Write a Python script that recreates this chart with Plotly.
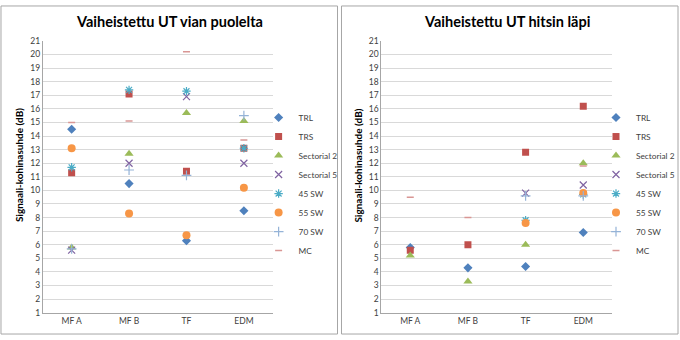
import plotly.graph_objects as go

categories = ["MF A", "MF B", "TF", "EDM"]
series_names = ["TRL", "TRS", "Sectorial 2", "Sectorial 5", "45 SW", "55 SW", "70 SW", "MC"]

# Left panel: "Vaiheistettu UT vian puolelta"
left_trl = [14.5, 10.5, 6.3, 8.5]
left_trs = [11.3, 17.1, 11.4, 13.1]
left_sect2 = [5.8, 12.7, 15.7, 15.1]
left_sect5 = [5.6, 12.0, 16.9, 12.0]
left_sw45 = [11.7, 17.4, 17.3, 13.1]
left_sw55 = [13.1, 8.3, 6.7, 10.2]
left_sw70 = [5.7, 11.5, 11.1, 15.5]
left_mc = [15.0, 15.1, 20.2, 13.7]

# Right panel: "Vaiheistettu UT hitsin läpi"
right_trl = [5.8, 4.3, 4.4, 6.9]
right_trs = [5.6, 6.0, 12.8, 16.2]
right_sect2 = [5.2, 3.3, 6.0, 12.0]
right_sect5 = [None, None, 9.8, 10.4]
right_sw45 = [None, None, 7.8, 9.7]
right_sw55 = [None, None, 7.6, 9.8]
right_sw70 = [None, None, 9.6, 9.6]
right_mc = [9.5, 8.0, None, 11.8]

y_ticks = list(range(1, 22))

styles = {
    "TRL": dict(symbol="diamond", color="#4F81BD", size=7),
    "TRS": dict(symbol="square", color="#C0504D", size=7),
    "Sectorial 2": dict(symbol="triangle-up", color="#9BBB59", size=8),
    "Sectorial 5": dict(symbol="x-thin-open", color="#8064A2", size=7, line=dict(width=1.2, color="#8064A2")),
    "45 SW": dict(symbol="asterisk-open", color="#4BACC6", size=7, line=dict(width=1.2, color="#4BACC6")),
    "55 SW": dict(symbol="circle", color="#F79646", size=8),
    "70 SW": dict(symbol="cross-thin-open", color="#95B3D7", size=7, line=dict(width=1.2, color="#95B3D7")),
    "MC": dict(symbol="line-ew-open", color="#D99694", size=5, line=dict(width=1.5, color="#C0504D")),
}

left_data = [left_trl, left_trs, left_sect2, left_sect5, left_sw45, left_sw55, left_sw70, left_mc]
right_data = [right_trl, right_trs, right_sect2, right_sect5, right_sw45, right_sw55, right_sw70, right_mc]

fig = go.Figure()
for name, vals in zip(series_names, left_data):
    fig.add_trace(go.Scatter(x=categories, y=vals, mode="markers", name=name,
                             marker=styles[name], xaxis="x", yaxis="y", legend="legend"))
for name, vals in zip(series_names, right_data):
    fig.add_trace(go.Scatter(x=categories, y=vals, mode="markers", name=name,
                             marker=styles[name], xaxis="x2", yaxis="y2", legend="legend2"))

W, H = 680, 340
font = "Lato, Open Sans, sans-serif"
tickfont = dict(family=font, size=8.5, color="#404040")

def xax(domain, anchor):
    return dict(domain=domain, anchor=anchor, type="category", categoryorder="array",
                categoryarray=categories, range=[-0.5, 3.5], showgrid=False,
                showline=True, linecolor="#A6A6A6", linewidth=1, ticks="",
                tickfont=tickfont, zeroline=False, fixedrange=True)

def yax(anchor):
    return dict(domain=[1 - 317 / H, 1 - 37 / H], anchor=anchor, range=[1, 21],
                tickvals=y_ticks, showgrid=True, gridcolor="#D9D9D9", gridwidth=1,
                showline=True, linecolor="#A6A6A6", linewidth=1, ticks="",
                tickfont=tickfont, zeroline=False, fixedrange=True)

legend_common = dict(font=dict(family=font, size=8.3, color="#404040"), bgcolor="rgba(0,0,0,0)",
                     itemsizing="trace", tracegroupgap=0, xanchor="left", yanchor="top",
                     itemwidth=30, borderwidth=0)

fig.update_layout(
    width=W, height=H, margin=dict(l=0, r=0, t=0, b=0), autosize=False,
    paper_bgcolor="white", plot_bgcolor="white",
    xaxis=xax([43 / W, 273 / W], "y"),
    yaxis=yax("x"),
    xaxis2=xax([382 / W, 613 / W], "y2"),
    yaxis2=yax("x2"),
    legend=dict(x=259 / W, y=1 - 101 / H, **legend_common),
    legend2=dict(x=597 / W, y=1 - 101 / H, **legend_common),
    showlegend=True,
    shapes=[
        dict(type="rect", xref="paper", yref="paper", x0=1 / W, x1=338 / W, y0=1 / H, y1=1 - 1 / H,
             line=dict(color="#A6A6A6", width=1)),
        dict(type="rect", xref="paper", yref="paper", x0=342 / W, x1=679 / W, y0=1 / H, y1=1 - 1 / H,
             line=dict(color="#A6A6A6", width=1)),
    ],
    annotations=[
        dict(text="<b>Vaiheistettu UT vian puolelta</b>", x=170 / W, y=1 - 17 / H, xref="paper", yref="paper",
             xanchor="center", yanchor="middle",
             showarrow=False, font=dict(family=font, size=14.5, color="#000000")),
        dict(text="<b>Vaiheistettu UT hitsin läpi</b>", x=508 / W, y=1 - 17 / H, xref="paper", yref="paper",
             xanchor="center", yanchor="middle",
             showarrow=False, font=dict(family=font, size=14.5, color="#000000")),
        dict(text="<b>Signaali-kohinasuhde (dB)</b>", x=19 / W, y=1 - 165 / H, xref="paper", yref="paper",
             xanchor="center", yanchor="middle",
             showarrow=False, textangle=-90, font=dict(family=font, size=10, color="#000000")),
        dict(text="<b>Signaali-kohinasuhde (dB)</b>", x=359 / W, y=1 - 165 / H, xref="paper", yref="paper",
             xanchor="center", yanchor="middle",
             showarrow=False, textangle=-90, font=dict(family=font, size=10, color="#000000")),
    ],
)

fig.write_html("out.html", config={"responsive": False, "displayModeBar": False})
